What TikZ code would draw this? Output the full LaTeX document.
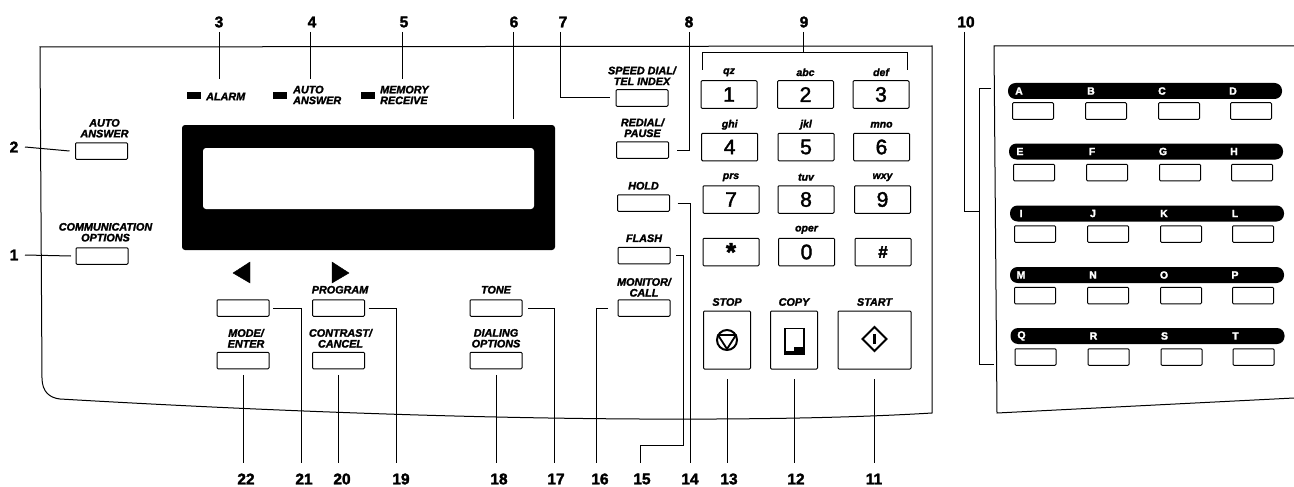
\documentclass[tikz,border=0pt]{standalone}
\usepackage{fontspec}
\setmainfont{Liberation Sans}[BoldFeatures={FakeBold=2},BoldItalicFeatures={FakeBold=2}]
\newfontfamily\keyfont{Liberation Sans}[FakeBold=2]
\usetikzlibrary{calc}
\tikzset{
  ln/.style={line width=1pt,line join=miter},
  btn/.style={draw,line width=1pt,rounded corners=1pt,minimum width=52pt,minimum height=16.5pt,inner sep=0pt,outer sep=0pt},
  fkey/.style={btn,minimum width=41pt,minimum height=16.5pt},
  digit/.style={btn,minimum width=56pt,minimum height=27.5pt,font=\keyfont\fontsize{21}{21}\selectfont},
  big/.style={btn,minimum height=58pt},
  numtop/.style={font=\fontsize{15.5}{15.5}\selectfont\bfseries,inner sep=0pt,outer sep=0pt,minimum height=20pt},
  numbot/.style={font=\fontsize{15.5}{15.5}\selectfont\bfseries,inner sep=0pt,outer sep=0pt,minimum height=32pt},
  numside/.style={font=\fontsize{15.5}{15.5}\selectfont\bfseries,inner sep=0pt,outer sep=0pt,minimum width=22pt},
  lbl/.style={font=\fontsize{10.8}{10.8}\selectfont\bfseries\itshape,align=center,inner sep=0pt},
  low/.style={font=\fontsize{10.5}{10.5}\selectfont\bfseries\itshape,inner sep=0pt},
  led/.style={fill=black,minimum width=14pt,minimum height=6.5pt,inner sep=0pt},
  barr/.style={fill=black,rounded corners=7.5pt,minimum width=274pt,minimum height=16pt,inner sep=0pt},
  bletter/.style={text=white,font=\fontsize{10.5}{10.5}\selectfont\bfseries,inner sep=0pt},
  tri/.style={fill=black}
}
\begin{document}
\begin{tikzpicture}[x=1pt,y=-1pt]
\useasboundingbox (0,0) rectangle (1294,487);
% panels
\draw[ln] (40,47) -- (932,46) -- (932,413) .. controls (850,418) and (750,419.5) .. (640,419) .. controls (450,418) and (250,410) .. (60,399) .. controls (50,398) and (42,392) .. (42,378) -- cycle;
\draw[ln] (1294,46) -- (994,46) -- (997,413) -- (1294,398);
% display
\node[fill=black,rounded corners=3pt,minimum width=373pt,minimum height=125pt,inner sep=0pt] (disp) at (368.5,187.5) {};
\node[fill=white,rounded corners=3pt,minimum width=331pt,minimum height=61pt,inner sep=0pt] (screen) at (368.5,178.5) {};
% LEDs
\node[led] (ledA) at (194,95.5) {};
\node[led] (ledB) at (280,95.5) {};
\node[led] (ledC) at (368,95.5) {};
\node[lbl,anchor=west] (tA) at (206,96.5) {ALARM};
\node[lbl,anchor=west,align=left] (tB) at (293,95) {AUTO\\ANSWER};
\node[lbl,anchor=west,align=left] (tC) at (380,95) {MEMORY\\RECEIVE};
% arrows
\filldraw[tri] (233,273) -- (250,262) -- (250,283) -- cycle;
\filldraw[tri] (349,273) -- (332,262) -- (332,283) -- cycle;
% buttons
\node[btn] (bAuto) at (101.5,151) {};
\node[btn] (bComm) at (102,256) {};
\node[btn] (bLeft) at (243,308) {};
\node[btn] (bProg) at (338.5,308) {};
\node[btn] (bMode) at (243,360.5) {};
\node[btn] (bCont) at (338.5,360.5) {};
\node[btn] (bTone) at (496,308) {};
\node[btn] (bDial) at (496,360.5) {};
\node[btn] (bMon) at (644,308) {};
\node[btn] (bFlash) at (644,255.5) {};
\node[btn] (bHold) at (643.5,203) {};
\node[btn] (bRedial) at (642.5,150) {};
\node[btn] (bSpeed) at (642,98) {};
\node[lbl] at (bAuto.north) [yshift=14.5pt,xshift=3pt] {AUTO\\ANSWER};
\node[lbl] at (bComm.north) [yshift=15.5pt,xshift=3.5pt] {COMMUNICATION\\OPTIONS};
\node[lbl] at (bProg.north) [yshift=10pt,xshift=1.5pt] {PROGRAM};
\node[lbl] at (bMode.north) [yshift=14pt,xshift=3pt] {MODE/\\ENTER};
\node[lbl] at (bCont.north) [yshift=14pt,xshift=2pt] {CONTRAST/\\CANCEL};
\node[lbl] at (bTone.north) [yshift=10pt] {TONE};
\node[lbl] at (bDial.north) [yshift=14pt] {DIALING\\OPTIONS};
\node[lbl] at (bMon.north) [yshift=12.5pt] {MONITOR/\\CALL};
\node[lbl] at (bFlash.north) [yshift=9pt] {FLASH};
\node[lbl] at (bHold.north) [yshift=9pt] {HOLD};
\node[lbl] at (bRedial.north) [yshift=14pt] {REDIAL/\\PAUSE};
\node[lbl] at (bSpeed.north) [yshift=14pt] {SPEED DIAL/\\TEL INDEX};
% keypad
\node[digit] (k1) at (729,94.5) {1};
\node[digit] (k2) at (805.5,94.5) {2};
\node[digit] (k3) at (881,94.5) {3};
\node[digit] (k4) at (729.7,147) {4};
\node[digit] (k5) at (806,147) {5};
\node[digit] (k6) at (881.5,147) {6};
\node[digit] (k7) at (731,199.5) {7};
\node[digit] (k8) at (806,199.5) {8};
\node[digit] (k9) at (882.5,199.5) {9};
\node[digit] (kS) at (731,252) {\bfseries\fontsize{26}{26}\selectfont\raisebox{-8pt}{*}};
\node[digit] (k0) at (806.5,252) {0};
\node[digit,font=\fontsize{17}{17}\selectfont\bfseries] (kH) at (883,252) {\#};
\foreach \k/\t in {k1/qz,k2/abc,k3/def,k4/ghi,k5/jkl,k6/mno,k7/prs,k8/tuv,k9/wxy,k0/oper}
  \node[low] at (\k.north) [yshift=8.5pt] {\t};
% big keys
\node[big,minimum width=47pt] (kStop) at (727,340) {};
\node[big,minimum width=47pt] (kCopy) at (794,340) {};
\node[big,minimum width=73pt] (kStart) at (874.5,340) {};
\node[lbl] at (kStop.north) [yshift=9pt] {STOP};
\node[lbl] at (kCopy.north) [yshift=9pt] {COPY};
\node[lbl] at (kStart.north) [yshift=9pt] {START};
\draw[line width=2pt] (kStop) circle (10pt);
\draw[line width=1.8pt,line join=round] ($(kStop)+(-9,-5)$) -- ($(kStop)+(9,-5)$) -- ($(kStop)+(0,9)$) -- cycle;
\draw[line width=1.8pt] ($(kCopy)+(-9,-11.5)$) -- ($(kCopy)+(10,-11.5)$) -- ($(kCopy)+(10,14)$) -- ($(kCopy)+(-9,14)$) -- cycle;
\fill ($(kCopy)+(0,7)$) -- ($(kCopy)+(10,7)$) -- ($(kCopy)+(10,14.5)$) -- ($(kCopy)+(-9,14.5)$) -- ($(kCopy)+(-9,11)$) -- ($(kCopy)+(0,11)$) -- cycle;
\draw[line width=2pt,line join=miter] ($(kStart)+(-12,-1)$) -- ($(kStart)+(0,-13)$) -- ($(kStart)+(12,-1)$) -- ($(kStart)+(0,11)$) -- cycle;
\draw[line width=2.2pt] ($(kStart)+(0,-6)$) -- ($(kStart)+(0,4)$);
% speed dial bars
\foreach \n/\yb/\yk/\xb/\la/\lb/\lc/\ld in {
 1/91/111/1145/A/B/C/D, 2/151.5/172.5/1146/E/F/G/H, 3/213.5/234/1147/I/J/K/L, 4/275/295.5/1147/M/N/O/P, 5/336/357/1147.5/Q/R/S/T}{
  \node[barr] (bar\n) at (\xb,\yb) {};
  \node[fkey] (a\n) at (\xb-112,\yk) {};
  \node[fkey] (b\n) at (\xb-39,\yk) {};
  \node[fkey] (c\n) at (\xb+34,\yk) {};
  \node[fkey] (d\n) at (\xb+106,\yk) {};
  \node[bletter] at (a\n |- bar\n) [xshift=-14pt] {\la};
  \node[bletter] at (b\n |- bar\n) [xshift=-15pt] {\lb};
  \node[bletter] at (c\n |- bar\n) [xshift=-17pt] {\lc};
  \node[bletter] at (d\n |- bar\n) [xshift=-18pt] {\ld};
}
% numbers
\node[numside] (n2) at (14,147) {2};
\node[numside] (n1) at (14,255) {1};
\foreach \n/\x in {3/219,4/312,5/404,6/514,7/563,8/689,9/804,10/966}
  \node[numtop] (n\n) at (\x,22) {\n};
\foreach \n/\x in {22/246,21/304,20/342,19/401,18/499,17/556,16/600,15/642,14/690,13/729,12/796,11/874}
  \node[numbot] (n\n) at (\x,479) {\n};
% free ends
\coordinate (c3) at (219,79);
\coordinate (c4) at (310,79);
\coordinate (c5) at (402,79);
\coordinate (c6) at (513,119);
\coordinate (b9l) at (702,70);
\coordinate (b9r) at (907,70);
\coordinate (b10t) at (991,89);
\coordinate (b10b) at (994,364);
% leaders
\draw[ln] (n2.east) -- ([xshift=-6pt]bAuto.west);
\draw[ln] (n1.east) -- ([xshift=-5pt]bComm.west);
\draw[ln] (n3.south) -- (c3);
\draw[ln] (c4 |- n4.south) -- (c4);
\draw[ln] (c5 |- n5.south) -- (c5);
\draw[ln] (c6 |- n6.south) -- (c6);
\draw[ln] (560,32) |- ([xshift=-6pt]bSpeed.west);
\draw[ln] (n8.south) |- ([xshift=8pt]bRedial.east);
\draw[ln] (b9l) |- (907,53) -- (b9r);
\draw[ln] (803,32) -- (803,53);
\draw[ln] (964,32) |- (979,211);
\draw[ln] (b10t) -| (979,364) -- (b10b);
\draw[ln] ([xshift=8pt]bHold.east) -| (690,463);
\draw[ln] ([xshift=6pt]bFlash.east) -| (683.5,445) -| (640,463);
\draw[ln] ([xshift=-10pt]bMon.west) -| (596,463);
\draw[ln] ([xshift=6pt]bTone.east) -| (554,463);
\draw[ln] ([yshift=-6pt]bDial.south) -- (bDial.south |- n18.north);
\draw[ln] ([xshift=4pt]bProg.east) -| (396,463);
\draw[ln] ([yshift=-6pt]bCont.south) -- (bCont.south |- n20.north);
\draw[ln] ([xshift=4pt]bLeft.east) -| (301,463);
\draw[ln] ([yshift=-6pt]bMode.south) -- (bMode.south |- n22.north);
\draw[ln] ([yshift=-10pt]kStop.south) -- (kStop.south |- n13.north);
\draw[ln] ([yshift=-10pt]kCopy.south) -- (kCopy.south |- n12.north);
\draw[ln] ([yshift=-10pt]kStart.south) -- (kStart.south |- n11.north);
\end{tikzpicture}
\end{document}
